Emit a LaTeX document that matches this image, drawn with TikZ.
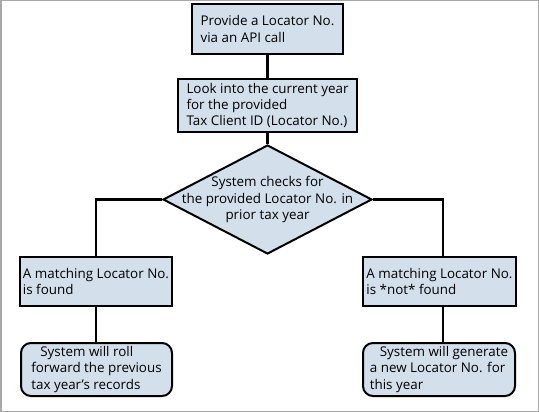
\documentclass[tikz,border=0pt]{standalone}
\usepackage{fontspec}
\setmainfont{Open Sans}
\usetikzlibrary{shapes.geometric}
\definecolor{boxfill}{HTML}{D3DFEA}
\definecolor{framegray}{HTML}{A8A8A8}
\begin{document}
\begin{tikzpicture}[x=1pt,y=-1pt,
  every node/.style={font=\fontsize{13.4}{16.3}\selectfont},
  boxstyle/.style={draw=black, fill=boxfill, line width=2.6pt, align=left, inner sep=0pt},
  roundbox/.style={draw=black, fill=boxfill, line width=2pt, rounded corners=10pt, align=left, inner sep=0pt},
  decision/.style={diamond, draw=black, fill=boxfill, line width=2pt, inner sep=0pt},
  link/.style={line width=2.6pt}]
\useasboundingbox (0,0) rectangle (539,412);
\draw[framegray, line width=1.5pt] (0.75,0.75) rectangle (538.25,411.25);

\node[boxstyle, minimum width=151pt, minimum height=50pt] (b1) at (267.5,29)
  {Provide a Locator No.\\via an API call};
\node[boxstyle, minimum width=179pt, minimum height=53pt] (b2) at (267.5,105.5)
  {Look into the current year\\for the provided\\Tax Client ID (Locator No.)};
\node[decision, minimum width=209pt, minimum height=109pt,
  label={[align=center]center:System checks for\\the provided Locator No. in\\prior tax year}] (d) at (267.5,199.5) {};
\node[boxstyle, minimum width=152pt, minimum height=49pt] (b3) at (96,281.5)
  {A matching Locator No.\\is found};
\node[roundbox, minimum width=151pt, minimum height=53pt] (b4) at (96.5,369.5)
  {\hspace{9pt}System will roll\\forward the previous\\tax year’s records};
\node[boxstyle, minimum width=153pt, minimum height=49pt] (b5) at (439.5,281.5)
  {A matching Locator No.\\is *not* found};
\node[roundbox, minimum width=152pt, minimum height=53pt] (b6) at (439,369.5)
  {\hspace{10pt}System will generate\\a new Locator No. for\\this year};

\coordinate (rx) at (443,199.5);
\draw[link] (b1.south) -- (b2.north);
\draw[link] (b2.south) -- (d.north);
\draw[link] (d.west) -| (b3.north);
\draw[link] (b3.south) -- (b3.south |- b4.north);
\draw[link] (d.east) -- (rx) -- (rx |- b5.north);
\draw[link] (rx |- b5.south) -- (rx |- b6.north);
\end{tikzpicture}
\end{document}
